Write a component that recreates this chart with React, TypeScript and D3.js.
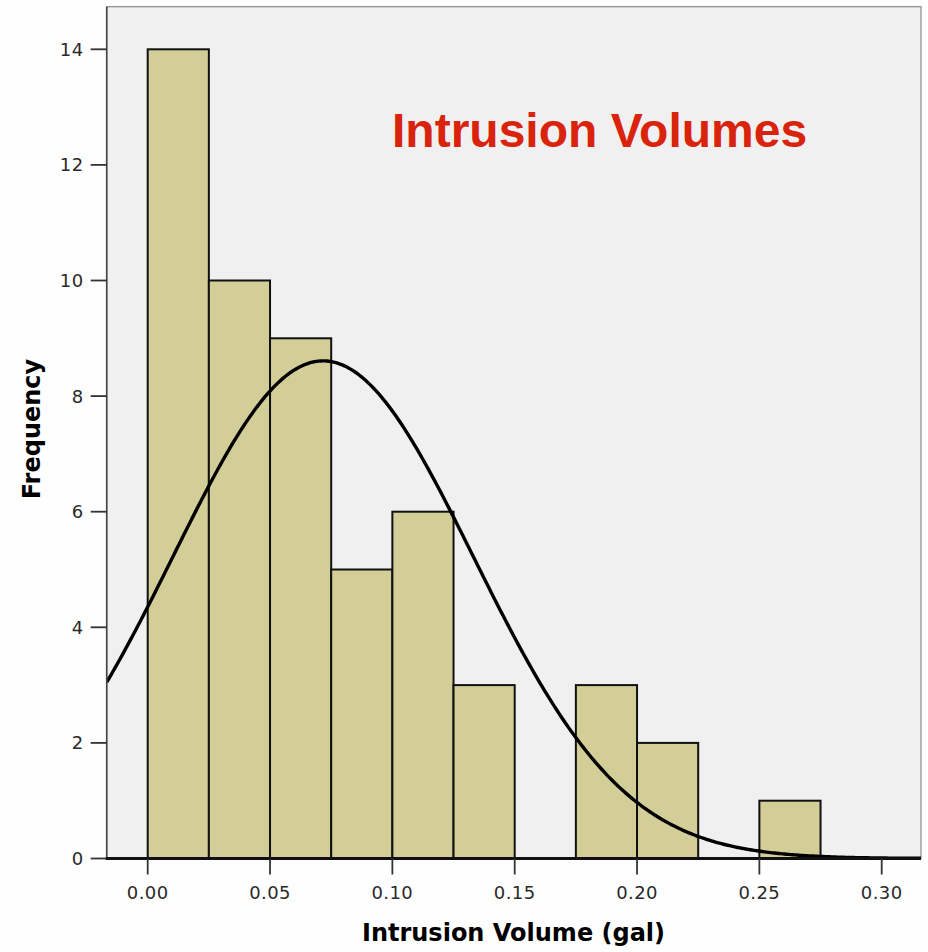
import React from "react";
import * as d3 from "d3";

// ---- data ----
const binStarts = [0.0, 0.025, 0.05, 0.075, 0.1, 0.125, 0.15, 0.175, 0.2, 0.225, 0.25];
const frequencies = [14, 10, 9, 5, 6, 3, 0, 3, 2, 0, 1];
const binWidth = 0.025;
const xTicks = [0.0, 0.05, 0.1, 0.15, 0.2, 0.25, 0.3];
const yTicks = [0, 2, 4, 6, 8, 10, 12, 14];
// fitted normal curve parameters
const fitMean = 0.0717;
const fitSd = 0.0614;
const titleText = "Intrusion Volumes";
const xLabel = "Intrusion Volume (gal)";
const yLabel = "Frequency";

const W = 928;
const H = 952;
const panel = { left: 106.7, right: 921, top: 6.7, bottom: 858.5 };

export default function App() {
  const x = d3.scaleLinear().domain([0, 0.3]).range([147.7, 881.7]);
  const y = d3.scaleLinear().domain([0, 14]).range([858.5, 49.3]);
  const xMin = x.invert(panel.left);
  const xMax = x.invert(panel.right);

  const total = d3.sum(frequencies);
  const normal = (v: number) =>
    (total * binWidth) / (fitSd * Math.sqrt(2 * Math.PI)) *
    Math.exp(-0.5 * ((v - fitMean) / fitSd) ** 2);
  const curvePts = d3.range(0, 401).map((i) => {
    const v = xMin + ((xMax - xMin) * i) / 400;
    return [v, normal(v)] as [number, number];
  });
  const line = d3
    .line<[number, number]>()
    .x((d) => x(d[0]))
    .y((d) => y(d[1]))
    .curve(d3.curveLinear);

  const tickFont = "'DejaVu Sans', sans-serif";

  return (
    <svg
      width={W}
      height={H}
      viewBox={`0 0 ${W} ${H}`}
      style={{ position: "absolute", left: 0, top: 0, background: "#fefefe" }}
    >
      <defs>
        <clipPath id="plotClip">
          <rect
            x={panel.left}
            y={panel.top}
            width={panel.right - panel.left}
            height={panel.bottom - panel.top}
          />
        </clipPath>
      </defs>
      <rect x={0} y={0} width={W} height={H} fill="#fefefe" />
      {/* panel */}
      <rect
        x={panel.left}
        y={panel.top}
        width={panel.right - panel.left}
        height={panel.bottom - panel.top}
        fill="#f0f0f0"
        stroke="#8a8a8a"
        strokeWidth={1.2}
      />
      {/* bars */}
      <g>
        {binStarts.map((b, i) =>
          frequencies[i] > 0 ? (
            <rect
              key={i}
              x={x(b)}
              y={y(frequencies[i])}
              width={x(b + binWidth) - x(b)}
              height={y(0) - y(frequencies[i])}
              fill="#d3cd97"
              stroke="#111"
              strokeWidth={2}
            />
          ) : null
        )}
      </g>
      {/* normal curve */}
      <path
        d={line(curvePts) || ""}
        fill="none"
        stroke="#000"
        strokeWidth={3.4}
        clipPath="url(#plotClip)"
      />
      {/* y axis */}
      <line x1={panel.left} x2={panel.left} y1={panel.top} y2={panel.bottom} stroke="#444" strokeWidth={1.6} />
      {yTicks.map((t) => (
        <g key={t}>
          <line x1={panel.left - 16} x2={panel.left} y1={y(t)} y2={y(t)} stroke="#333" strokeWidth={1.8} />
          <text
            x={83.5}
            y={y(t)}
            dy="0.36em"
            textAnchor="end"
            fontFamily={tickFont}
            fontSize={18}
            letterSpacing={0.4}
            fill="#2a2a2a"
          >
            {t}
          </text>
        </g>
      ))}
      {/* x axis */}
      <line x1={panel.left - 1} x2={panel.right} y1={panel.bottom} y2={panel.bottom} stroke="#111" strokeWidth={3} />
      {xTicks.map((t) => (
        <g key={t}>
          <line x1={x(t)} x2={x(t)} y1={panel.bottom} y2={panel.bottom + 16} stroke="#333" strokeWidth={1.8} />
          <text
            x={x(t)}
            y={898.5}
            textAnchor="middle"
            fontFamily={tickFont}
            fontSize={18}
            letterSpacing={0.4}
            fill="#2a2a2a"
          >
            {t.toFixed(2)}
          </text>
        </g>
      ))}
      {/* title */}
      <text
        x={392}
        y={146.7}
        fontFamily="'Liberation Sans', Arial, sans-serif"
        fontWeight="bold"
        fontSize={48}
        fill="#d9230c"
      >
        {titleText}
      </text>
      {/* axis titles */}
      <text
        x={513.5}
        y={941}
        textAnchor="middle"
        fontFamily={tickFont}
        fontWeight="bold"
        fontSize={24}
        fill="#000"
      >
        {xLabel}
      </text>
      <text
        transform={`translate(40,429) rotate(-90)`}
        textAnchor="middle"
        fontFamily={tickFont}
        fontWeight="bold"
        fontSize={24}
        fill="#000"
      >
        {yLabel}
      </text>
    </svg>
  );
}
